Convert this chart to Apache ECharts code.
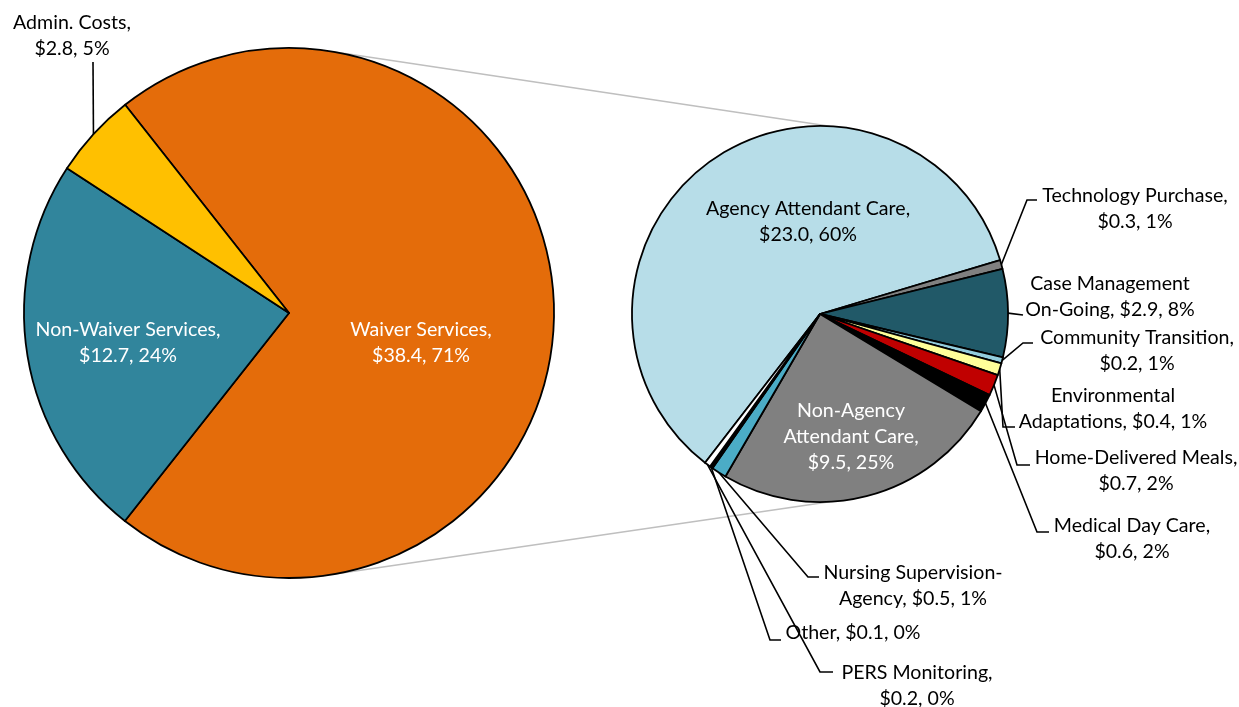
<!DOCTYPE html>
<html>
<head>
<meta charset="utf-8">
<script src="https://cdn.jsdelivr.net/npm/echarts@6/dist/echarts.min.js"></script>
<style>
html,body{margin:0;padding:0;background:#ffffff;}
#chart{width:1239px;height:707px;}
</style>
</head>
<body>
<div id="chart"></div>
<script>
// ---------- data ----------
const primaryNames   = ['Waiver Services', 'Non-Waiver Services', 'Admin. Costs'];
const primaryValues  = [38.4, 12.7, 2.8];
const primaryPct     = ['71%', '24%', '5%'];

const secondaryNames  = ['Agency Attendant Care', 'Technology Purchase', 'Case Management On-Going',
  'Community Transition', 'Environmental Adaptations', 'Home-Delivered Meals', 'Medical Day Care',
  'Non-Agency Attendant Care', 'Nursing Supervision-Agency', 'Other', 'PERS Monitoring'];
const secondaryValues = [23.0, 0.3, 2.9, 0.2, 0.4, 0.7, 0.6, 9.5, 0.5, 0.1, 0.2];
const secondaryPct    = ['60%', '1%', '8%', '1%', '1%', '2%', '2%', '25%', '1%', '0%', '0%'];

// ---------- styles ----------
const primaryColors   = ['#E46C0A', '#31859C', '#FFC000'];
const secondaryColors = ['#B7DDE8', '#808080', '#215968', '#93CDDD', '#FFFF99', '#C00000',
  '#000000', '#808080', '#4BACC6', '#000000', '#FFFFFF'];

// geometry of the two pies
const P1 = { cx: 289, cy: 313, r: 265, start: 128.2 };
const P2 = { cx: 820, cy: 314, r: 188, start: 232.3 };

// label placement (text centre, leader bend points, line-break text)
const labelSpots = {
  'Waiver Services':            { c: [421, 343], color: '#fff', text: 'Waiver Services,\n' },
  'Non-Waiver Services':        { c: [128, 343], color: '#fff', text: 'Non-Waiver Services,\n' },
  'Admin. Costs':               { c: [72, 36],   path: [[93, 62]], text: 'Admin. Costs,\n' },
  'Agency Attendant Care':      { c: [808, 222], text: 'Agency Attendant Care,\n' },
  'Technology Purchase':        { c: [1135, 209], path: [[1027, 200], [1037, 200]], text: 'Technology Purchase,\n' },
  'Case Management On-Going':   { c: [1110, 297], path: [[1023, 315]], text: 'Case Management\nOn-Going, ' },
  'Community Transition':       { c: [1137, 351], path: [[1023, 343], [1033, 343]], text: 'Community Transition,\n' },
  'Environmental Adaptations':  { c: [1113, 409], path: [[1003, 427], [1015, 427]], text: 'Environmental\nAdaptations, ' },
  'Home-Delivered Meals':       { c: [1136, 471], path: [[1017, 465], [1030, 465]], text: 'Home-Delivered Meals,\n' },
  'Medical Day Care':           { c: [1132, 539], path: [[1037, 532], [1049, 532]], text: 'Medical Day Care,\n' },
  'Non-Agency Attendant Care':  { c: [851, 437], color: '#fff', text: 'Non-Agency\nAttendant Care,\n' },
  'Nursing Supervision-Agency': { c: [913, 586], path: [[808, 577], [819, 577]], text: 'Nursing Supervision-\nAgency, ' },
  'Other':                      { c: [853, 633], path: [[770, 640], [781, 640]], text: 'Other, ' },
  'PERS Monitoring':            { c: [917, 686], path: [[820, 672], [833, 672]], text: 'PERS Monitoring,\n' }
};

// font: calibrate an installed humanist sans to the reference text width
const FONT = 'Lato';
const ctx = document.createElement('canvas').getContext('2d');
ctx.font = '100px ' + FONT;
const w100 = ctx.measureText('Agency Attendant Care,').width;
const FS = Math.round(204 / w100 * 1000) / 10;

function buildData(names, values, pcts, colors) {
  return names.map((n, i) => {
    const spot = labelSpots[n];
    const inside = !spot.path;
    return {
      name: n,
      value: values[i],
      pct: pcts[i],
      itemStyle: { color: colors[i] },
      label: { position: inside ? 'inside' : 'outside', color: spot.color || '#000' },
      labelLine: { show: !inside }
    };
  });
}

function fmt(p) {
  const spot = labelSpots[p.name];
  return spot.text + '$' + p.value.toFixed(1) + ', ' + p.data.pct;
}

function makeLayout(names) {
  return function (p) {
    const spot = labelSpots[names[p.dataIndex]];
    const res = { x: spot.c[0], y: spot.c[1], align: 'center', verticalAlign: 'middle' };
    if (spot.path && p.labelLinePoints && p.labelLinePoints.length) {
      const s = p.labelLinePoints[0];
      res.labelLinePoints = [[s[0], s[1]]].concat(spot.path.map(q => [q[0], q[1]]));
    }
    return res;
  };
}

function pt(P, degFromTop) {
  const a = degFromTop * Math.PI / 180;
  return [P.cx + P.r * Math.sin(a), P.cy - P.r * Math.cos(a)];
}

const top1 = pt(P1, 10), bot1 = pt(P1, 170);
const top2 = pt(P2, 3),  bot2 = pt(P2, 177);

const commonSeries = {
  type: 'pie',
  clockwise: true,
  avoidLabelOverlap: false,
  animation: false,
  silent: true,
  emphasis: { disabled: true },
  itemStyle: { borderColor: '#000000', borderWidth: 1.8 },
  label: {
    show: true,
    formatter: fmt,
    fontFamily: FONT,
    fontSize: FS,
    lineHeight: 26,
    color: '#000'
  },
  labelLine: { show: true, length: 10, length2: 10, smooth: false,
    lineStyle: { color: '#000000', width: 1.6 } }
};

const option = {
  backgroundColor: '#ffffff',
  animation: false,
  graphic: [
    { type: 'line', z: 0, shape: { x1: top1[0], y1: top1[1], x2: top2[0], y2: top2[1] },
      style: { stroke: '#BFBFBF', lineWidth: 1.5 } },
    { type: 'line', z: 0, shape: { x1: bot1[0], y1: bot1[1], x2: bot2[0], y2: bot2[1] },
      style: { stroke: '#BFBFBF', lineWidth: 1.5 } }
  ],
  series: [
    Object.assign({}, commonSeries, {
      name: 'primary',
      center: [P1.cx, P1.cy],
      radius: P1.r,
      startAngle: P1.start,
      data: buildData(primaryNames, primaryValues, primaryPct, primaryColors),
      labelLayout: makeLayout(primaryNames)
    }),
    Object.assign({}, commonSeries, {
      name: 'secondary',
      center: [P2.cx, P2.cy],
      radius: P2.r,
      startAngle: P2.start,
      data: buildData(secondaryNames, secondaryValues, secondaryPct, secondaryColors),
      labelLayout: makeLayout(secondaryNames)
    })
  ]
};

const chart = echarts.init(document.getElementById('chart'), null, { renderer: 'canvas' });
chart.setOption(option);
</script>
</body>
</html>
